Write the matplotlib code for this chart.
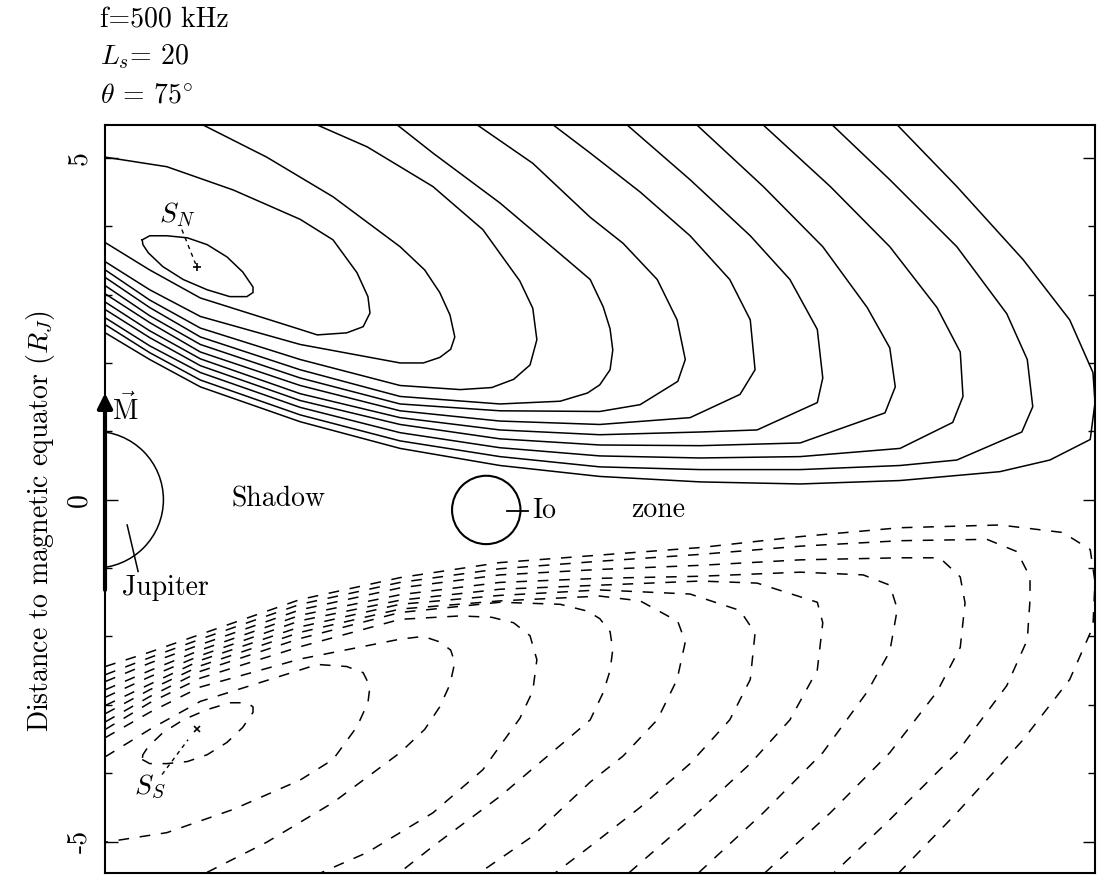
import numpy as np
import matplotlib.pyplot as plt
from matplotlib.patches import Circle

plt.rcParams['font.family'] = 'cmr10'
plt.rcParams['mathtext.fontset'] = 'cm'
plt.rcParams['axes.unicode_minus'] = False
plt.rcParams['axes.formatter.use_mathtext'] = True

# Abscisas (R_J) donde se leen las ramas del lado del ecuador
GRID_X = [0.15, 0.80, 1.54, 3.00, 4.46, 5.92, 7.38, 8.85, 10.31, 11.77, 13.23]

# Elipse interior alrededor de S_N (la del sur es su reflejo)
E1_X = [0.69, 0.80, 1.05, 1.35, 1.64, 1.93, 2.16, 2.31, 2.31, 2.22, 1.97, 1.64, 1.29, 0.99, 0.78, 0.70, 0.69]
E1_Y = [3.80, 3.86, 3.86, 3.83, 3.73, 3.55, 3.33, 3.11, 3.03, 2.97, 2.97, 3.07, 3.22, 3.41, 3.61, 3.73, 3.80]

# Curvas del norte (continuas): rama del ecuador sobre GRID_X, luego nariz y rama superior
C2_BAJO = [3.76, 3.36, 2.95, 2.49]
C2_X = [3.25, 3.68, 3.92, 4.02, 3.99, 3.83, 3.48, 3.00, 2.02, 1.05, 0.15]
C2_Y = [2.41, 2.44, 2.53, 2.73, 2.97, 3.32, 3.80, 4.10, 4.53, 4.87, 5.01]

C3_BAJO = [3.48, 3.07, 2.68, 2.27, 2.00]
C3_X = [4.80, 5.04, 5.20, 5.26, 5.19, 5.04, 4.82, 4.46, 3.48, 2.51, 1.58]
C3_Y = [2.00, 2.08, 2.20, 2.38, 2.70, 3.03, 3.36, 3.70, 4.43, 5.01, 5.48]

C4_BAJO = [3.36, 2.92, 2.51, 2.05, 1.67]
C4_X = [5.34, 5.80, 6.12, 6.36, 6.46, 6.40, 6.21, 5.67, 4.94, 3.98, 3.25]
C4_Y = [1.61, 1.64, 1.76, 1.97, 2.34, 2.80, 3.20, 3.95, 4.58, 5.16, 5.48]

C5_BAJO = [3.25, 2.81, 2.38, 1.90, 1.51, 1.40]
C5_X = [6.80, 7.20, 7.38, 7.53, 7.57, 7.53, 7.43, 7.24, 6.90, 5.92, 4.94, 4.42]
C5_Y = [1.44, 1.56, 1.68, 1.90, 2.19, 2.50, 2.82, 3.22, 3.51, 4.34, 5.07, 5.48]

C6_BAJO = [3.13, 2.69, 2.27, 1.78, 1.40, 1.30, 1.29]
C6_X = [7.97, 8.52, 8.63, 8.51, 8.22, 7.72, 7.24, 6.40, 5.59]
C6_Y = [1.39, 1.73, 2.05, 2.63, 3.22, 3.75, 4.13, 4.92, 5.48]

C7_BAJO = [3.01, 2.59, 2.16, 1.67, 1.30, 1.15, 1.10]
C7_X = [8.70, 9.43, 9.65, 9.58, 9.28, 8.70, 7.97, 7.24, 6.70]
C7_Y = [1.20, 1.54, 1.90, 2.63, 3.22, 3.86, 4.50, 5.07, 5.48]

C8_BAJO = [2.89, 2.47, 2.06, 1.55, 1.20, 1.02, 0.95, 0.99]
C8_X = [9.68, 10.56, 10.64, 10.56, 10.16, 9.58, 8.70, 7.78]
C8_Y = [1.02, 1.42, 1.78, 2.49, 3.22, 3.86, 4.68, 5.48]

C9_BAJO = [2.78, 2.37, 1.96, 1.45, 1.10, 0.89, 0.80, 0.79, 0.83]
C9_X = [11.55, 11.70, 11.62, 11.29, 10.64, 9.77, 8.80]
C9_Y = [1.27, 1.65, 2.22, 2.81, 3.70, 4.58, 5.48]

C10_BAJO = [2.66, 2.25, 1.86, 1.35, 0.98, 0.76, 0.64, 0.61, 0.63, 0.75]
C10_X = [12.54, 12.69, 12.65, 12.31, 11.62, 10.75, 9.77]
C10_Y = [1.13, 1.51, 2.16, 2.81, 3.70, 4.58, 5.48]

C11_BAJO = [2.56, 2.15, 1.75, 1.24, 0.86, 0.63, 0.48, 0.44, 0.44, 0.50]
C11_X = [12.60, 13.55, 13.71, 13.63, 13.33, 12.60, 11.62, 10.78]
C11_Y = [0.58, 0.99, 1.36, 2.05, 2.72, 3.70, 4.68, 5.48]

C12_BAJO = [2.44, 2.05, 1.65, 1.14, 0.75, 0.50, 0.34, 0.26, 0.23, 0.28, 0.41]
C12_X = [13.96, 14.55, 14.62, 14.59, 14.25, 13.57, 12.60, 11.73]
C12_Y = [0.58, 0.88, 1.42, 1.86, 2.63, 3.51, 4.58, 5.48]

# Curvas del sur (discontinuas), distancias al ecuador (se dibujan con signo menos)
S2_BAJO = [3.76, 3.36, 2.95, 2.49]
S3_BAJO = [3.48, 3.11, 2.74, 2.33, 2.04]
S4_BAJO = [3.36, 2.97, 2.61, 2.15, 1.75]
S4_X = [5.34, 5.80, 6.12, 6.36, 6.46, 6.40, 6.21, 5.67, 4.94, 3.98, 3.25]
S4_Y = [1.70, 1.72, 1.80, 1.99, 2.34, 2.80, 3.20, 3.95, 4.58, 5.16, 5.48]
S5_BAJO = [3.25, 2.88, 2.51, 2.03, 1.65, 1.50]
S5_X = [6.80, 7.20, 7.38, 7.53, 7.57, 7.53, 7.43, 7.24, 6.90, 5.92, 4.94, 4.42]
S5_Y = [1.53, 1.63, 1.74, 1.93, 2.19, 2.50, 2.82, 3.22, 3.51, 4.34, 5.07, 5.48]
S6_BAJO = [3.13, 2.78, 2.43, 1.94, 1.60, 1.48, 1.41]
S6_X = [7.97, 8.52, 8.63, 8.51, 8.22, 7.72, 7.24, 6.40, 5.59]
S6_Y = [1.48, 1.78, 2.08, 2.63, 3.22, 3.75, 4.13, 4.92, 5.48]
S7_BAJO = [3.01, 2.70, 2.35, 1.86, 1.53, 1.40, 1.32]
S7_X = [8.70, 9.43, 9.65, 9.58, 9.28, 8.70, 7.97, 7.24, 6.70]
S7_Y = [1.38, 1.62, 1.95, 2.63, 3.22, 3.86, 4.50, 5.07, 5.48]
S8_BAJO = [2.89, 2.59, 2.28, 1.77, 1.47, 1.31, 1.25, 1.19]
S8_X = [9.68, 10.56, 10.64, 10.56, 10.16, 9.58, 8.70, 7.78]
S8_Y = [1.22, 1.50, 1.80, 2.49, 3.22, 3.86, 4.68, 5.48]
S9_BAJO = [2.78, 2.50, 2.20, 1.69, 1.39, 1.21, 1.15, 1.12, 1.06]
S9_X = [11.23, 11.62, 11.73, 11.62, 11.29, 10.64, 9.77, 8.80]
S9_Y = [1.10, 1.25, 1.60, 2.22, 2.81, 3.70, 4.58, 5.48]
S10_BAJO = [2.66, 2.39, 2.12, 1.61, 1.29, 1.10, 1.02, 0.96, 0.88, 0.85]
S10_X = [12.35, 12.65, 12.72, 12.65, 12.31, 11.62, 10.75, 9.77]
S10_Y = [0.85, 1.13, 1.51, 2.16, 2.81, 3.70, 4.58, 5.48]
S11_BAJO = [2.56, 2.31, 2.04, 1.53, 1.21, 1.01, 0.90, 0.80, 0.68, 0.60]
S11_X = [13.04, 13.48, 13.67, 13.67, 13.63, 13.33, 12.60, 11.62, 10.78]
S11_Y = [0.58, 0.76, 1.13, 1.46, 2.05, 2.72, 3.70, 4.68, 5.48]
S12_BAJO = [2.44, 2.23, 1.97, 1.46, 1.14, 0.92, 0.81, 0.70, 0.54, 0.41, 0.37]
S12_X = [14.15, 14.55, 14.62, 14.59, 14.25, 13.57, 12.60, 11.73]
S12_Y = [0.48, 0.73, 1.20, 1.86, 2.63, 3.51, 4.58, 5.48]

NORTE = [
    (C2_BAJO, C2_X, C2_Y), (C3_BAJO, C3_X, C3_Y), (C4_BAJO, C4_X, C4_Y),
    (C5_BAJO, C5_X, C5_Y), (C6_BAJO, C6_X, C6_Y), (C7_BAJO, C7_X, C7_Y),
    (C8_BAJO, C8_X, C8_Y), (C9_BAJO, C9_X, C9_Y), (C10_BAJO, C10_X, C10_Y),
    (C11_BAJO, C11_X, C11_Y), (C12_BAJO, C12_X, C12_Y),
]
SUR = [
    (S2_BAJO, C2_X, C2_Y), (S3_BAJO, C3_X, C3_Y), (S4_BAJO, S4_X, S4_Y),
    (S5_BAJO, S5_X, S5_Y), (S6_BAJO, S6_X, S6_Y), (S7_BAJO, S7_X, S7_Y),
    (S8_BAJO, S8_X, S8_Y), (S9_BAJO, S9_X, S9_Y), (S10_BAJO, S10_X, S10_Y),
    (S11_BAJO, S11_X, S11_Y), (S12_BAJO, S12_X, S12_Y),
]

# Posiciones de Jupiter, Io y las fuentes
JUPITER = (0.0, 0.0, 1.0)
IO = (5.72, -0.15, 0.5)
S_NORTE = (1.49, 3.40)
S_SUR = (1.49, -3.36)

FS = 20
fig = plt.figure(figsize=(10.97, 8.76), dpi=100)
ax = fig.add_axes([105 / 1097, 3 / 876, 990 / 1097, 748 / 876])
ax.set_xlim(0.146, 14.62)
ax.set_ylim(-5.46, 5.48)

lw = 1.1
discontinua = (0, (7, 7))


def curva(bajo, xs, ys):
    x = list(GRID_X[:len(bajo)]) + list(xs)
    y = list(bajo) + list(ys)
    return np.array(x), np.array(y)


ax.plot(E1_X, E1_Y, color='k', lw=lw)
ax.plot(E1_X, -np.array(E1_Y), color='k', lw=lw, ls=discontinua)
for bajo, xs, ys in NORTE:
    x, y = curva(bajo, xs, ys)
    ax.plot(x, y, color='k', lw=lw)
for bajo, xs, ys in SUR:
    x, y = curva(bajo, xs, ys)
    ax.plot(x, -y, color='k', lw=lw, ls=discontinua)

# Jupiter y eje magnetico
ax.add_patch(Circle(JUPITER[:2], JUPITER[2], fill=False, lw=lw, color='k'))
ax.annotate('', xy=(0.146, 1.56), xytext=(0.146, -1.32),
            arrowprops=dict(arrowstyle='-|>', lw=3, color='k', mutation_scale=22,
                            shrinkA=0, shrinkB=0), annotation_clip=False)
ax.text(0.25, 1.32, r'$\vec{\mathrm{M}}$', fontsize=FS, va='center', ha='left')
ax.plot([0.47, 0.63], [-0.37, -1.05], color='k', lw=lw)
ax.text(0.39, -1.29, 'Jupiter', fontsize=FS, va='center', ha='left')

# Io
ax.add_patch(Circle(IO[:2], IO[2], fill=False, lw=1.5, color='k'))
ax.plot([6.02, 6.33], [-0.16, -0.16], color='k', lw=1.3)
ax.text(6.39, -0.16, 'Io', fontsize=FS, va='center', ha='left')
ax.text(2.68, 0.0, 'Shadow', fontsize=FS, va='center', ha='center')
ax.text(8.23, -0.15, 'zone', fontsize=FS, va='center', ha='center')

# Fuentes S_N y S_S
ax.plot(*S_NORTE, marker='+', color='k', ms=6, mew=1.2)
ax.plot([1.27, 1.47], [3.95, 3.45], color='k', lw=1, ls=(0, (3, 3)))
ax.text(1.20, 4.17, r'$S_N$', fontsize=FS, va='center', ha='center')
ax.plot(*S_SUR, marker='x', color='k', ms=4, mew=1.2)
ax.plot([0.98, 1.36], [-4.02, -3.51], color='k', lw=1, ls=(0, (3, 3)))
ax.text(0.80, -4.20, r'$S_S$', fontsize=FS, va='center', ha='center')

# Ejes
ax.set_yticks([-5, 0, 5])
ax.set_yticks(np.arange(-5, 6), minor=True)
ax.set_yticklabels(['-5', '0', '5'], rotation=90, va='center', fontsize=FS)
ax.set_xticks([])
ax.tick_params(which='major', direction='in', left=True, right=True, length=9, width=1, pad=9)
ax.tick_params(which='minor', direction='in', left=True, right=True, length=5, width=1)
for s in ax.spines.values():
    s.set_linewidth(1.5)
ax.set_ylabel(r'Distance to magnetic equator ($R_J$)', fontsize=FS)
ax.yaxis.set_label_coords(-0.048, 0.47)

fig.text(100 / 1097, 1 - 20 / 876, 'f=500 kHz', fontsize=FS, va='center', ha='left')
fig.text(100 / 1097, 1 - 57 / 876, r'$L_s$= 20', fontsize=FS, va='center', ha='left')
fig.text(100 / 1097, 1 - 95 / 876, r'$\theta$ = 75$^{\circ}$', fontsize=FS, va='center', ha='left')

fig.savefig('out.png', dpi=100)
